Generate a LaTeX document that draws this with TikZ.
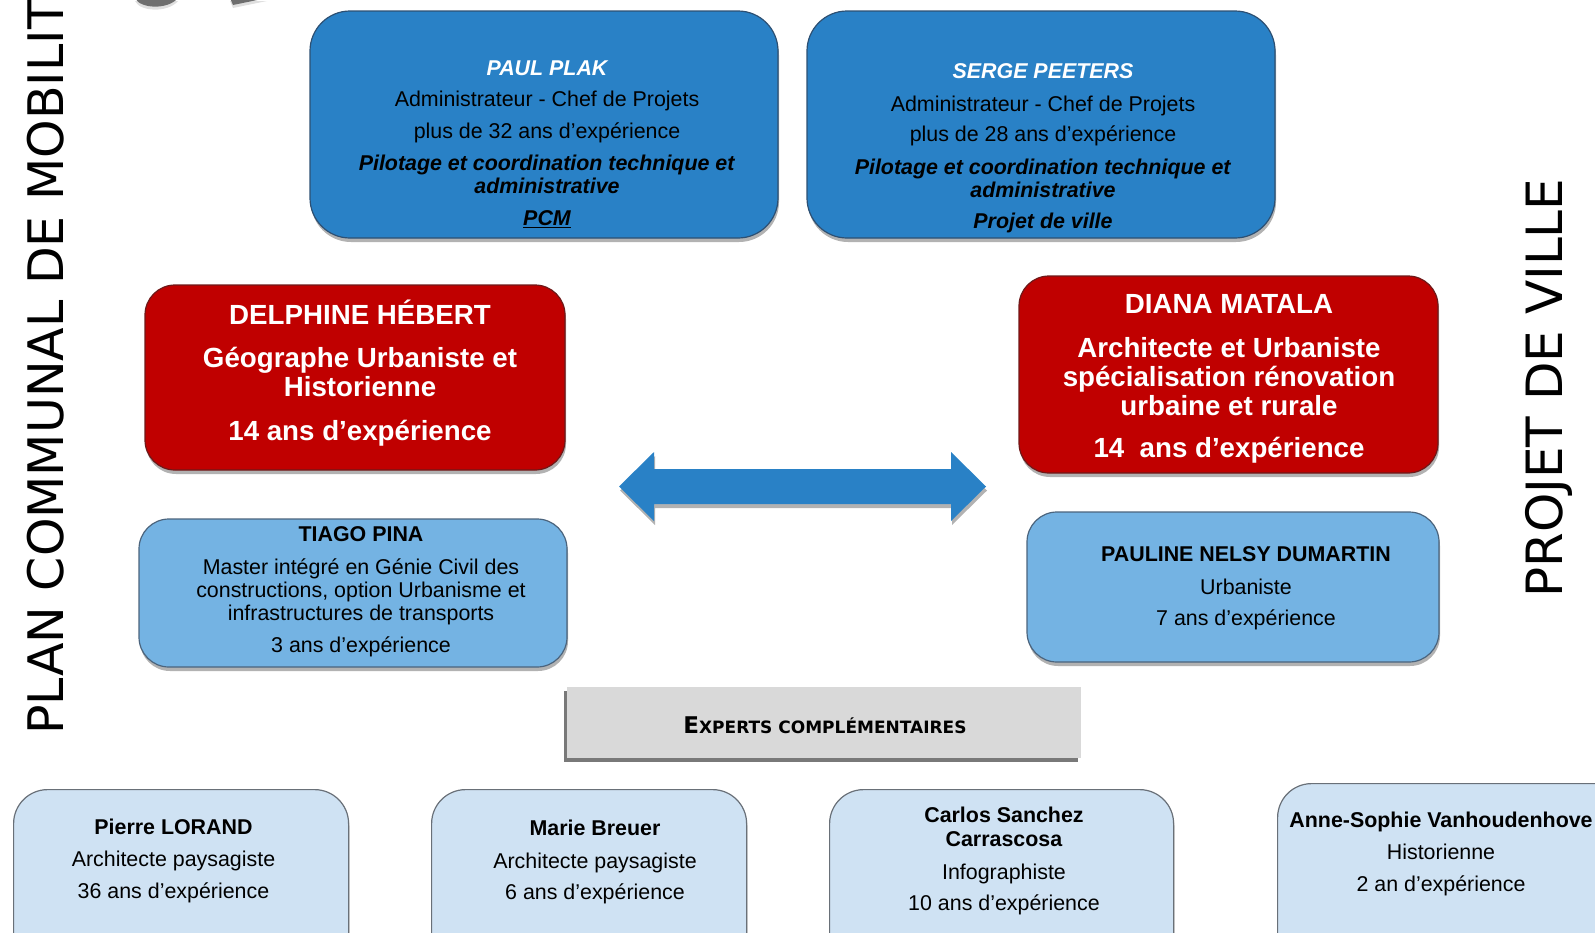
\documentclass[tikz,border=0pt]{standalone}
\usepackage{fontspec}
\setmainfont{Liberation Sans}
\newfontfamily\dvs{DejaVu Sans}
\usetikzlibrary{shadows}
\definecolor{topblue}{RGB}{41,129,198}
\definecolor{topborder}{RGB}{45,80,115}
\definecolor{redfill}{RGB}{192,0,0}
\definecolor{redborder}{RGB}{110,25,25}
\definecolor{midblue}{RGB}{116,179,227}
\definecolor{midborder}{RGB}{75,100,125}
\definecolor{paleblue}{RGB}{207,226,243}
\definecolor{paleborder}{RGB}{105,112,120}
\definecolor{expgrey}{RGB}{217,217,217}
\definecolor{blobgrey}{RGB}{110,110,110}
\begin{document}
\begin{tikzpicture}[x=1pt,y=-1pt,
  softshadow/.style={drop shadow={shadow xshift=1pt,shadow yshift=-4pt,opacity=0.3,fill=black}},
  card/.style={draw, line width=1.2pt, inner sep=0pt, softshadow},
  topbox/.style={card, fill=topblue, draw=topborder, rounded corners=40pt, minimum width=468pt, minimum height=227pt},
  redbox/.style={card, fill=redfill, draw=redborder, rounded corners=30pt},
  midbox/.style={card, fill=midblue, draw=midborder, rounded corners=30pt},
  palebox/.style={card, fill=paleblue, draw=paleborder, rounded corners=34pt, anchor=north west, minimum height=190pt},
  body/.style={align=center, inner sep=0pt, anchor=base, font=\fontsize{21.4}{23}\selectfont},
  bigbody/.style={align=center, inner sep=0pt, anchor=base, text=white, font=\fontsize{27.7}{29}\selectfont\bfseries},
  sidetext/.style={inner sep=0pt, anchor=base west, rotate=90, font=\dvs\fontsize{49}{49}\selectfont}
]
\clip (0,0) rectangle (1595,932);
\useasboundingbox (0,0) rectangle (1595,932);

% partial grey shapes at the top edge
\path[fill=blobgrey, drop shadow={shadow xshift=0pt,shadow yshift=-3pt,opacity=0.25}]
  (135,-2) .. controls (140,9) and (168,10) .. (178,-2) -- cycle;
\path[fill=blobgrey, drop shadow={shadow xshift=0pt,shadow yshift=-3pt,opacity=0.25}]
  (230,-2) -- (233,5) -- (267,-2) -- cycle;

% side titles
\node[sidetext] (pcm) at (63,735) {PLAN COMMUNAL DE MOBILITÉ};
\node[sidetext, font=\dvs\fontsize{50}{50}\selectfont] (pdv) at (1562,598) {PROJET DE VILLE};

% top boxes
\node[topbox] (paul) at (544,124.5) {};
\node[body] (paultxt) at (547,225.5) {{\color{white}\bfseries\itshape PAUL PLAK}\\[8pt]
  Administrateur - Chef de Projets\\[9pt]
  plus de 32 ans d’expérience\\[9pt]
  \textbf{\textit{Pilotage et coordination technique et}}\\
  \textbf{\textit{administrative}}\\[9pt]
  \textbf{\textit{\underline{PCM}}}};

\node[topbox] (serge) at (1041,124.5) {};
\node[body] (sergetxt) at (1043,228.5) {{\color{white}\bfseries\itshape SERGE PEETERS}\\[10pt]
  Administrateur - Chef de Projets\\[7pt]
  plus de 28 ans d’expérience\\[10pt]
  \textbf{\textit{Pilotage et coordination technique et}}\\
  \textbf{\textit{administrative}}\\[8pt]
  \textbf{\textit{Projet de ville}}};

% red boxes
\node[redbox, minimum width=420pt, minimum height=185pt] (delphine) at (355,377.5) {};
\node[bigbody] (delphinetxt) at (360,440) {DELPHINE HÉBERT\\[14pt]
  Géographe Urbaniste et\\
  Historienne\\[15pt]
  14 ans d’expérience};

\node[redbox, minimum width=419pt, minimum height=197pt] (diana) at (1228.5,374.5) {};
\node[bigbody] (dianatxt) at (1229,457) {DIANA MATALA\\[15pt]
  Architecte et Urbaniste\\
  spécialisation rénovation\\
  urbaine et rurale\\[13pt]
  14~ ans d’expérience};

% double arrow
\path[fill=topblue, softshadow] (619,486.5) -- (654,452) -- (654,469) -- (951,469) -- (951,452)
  -- (986,486.5) -- (951,521) -- (951,504) -- (654,504) -- (654,521) -- cycle;

% mid boxes
\node[midbox, minimum width=428pt, minimum height=148pt] (tiago) at (353,593) {};
\node[body] (tiagotxt) at (361,652.5) {\textbf{TIAGO PINA}\\[10pt]
  Master intégré en Génie Civil des\\
  constructions, option Urbanisme et\\
  infrastructures de transports\\[9pt]
  3 ans d’expérience};

\node[midbox, minimum width=412pt, minimum height=150pt] (pauline) at (1233,587) {};
\node[body] (paulinetxt) at (1246,625.5) {\textbf{PAULINE NELSY DUMARTIN}\\[10pt]
  Urbaniste\\[8pt]
  7 ans d’expérience};

% experts header
\node[fill=expgrey, inner sep=0pt, minimum width=514pt, minimum height=71pt,
  drop shadow={shadow xshift=-3pt,shadow yshift=-4pt,opacity=0.75,fill=black!70}] (experts) at (824,722.5) {};
\node[inner sep=0pt, anchor=base, font=\dvs\bfseries] (expertstxt) at (825,733)
  {{\fontsize{23}{23}\selectfont E}{\fontsize{17}{17}\selectfont XPERTS COMPLÉMENTAIRES}};

% bottom boxes
\node[palebox, minimum width=335pt] (pierre) at (13,789) {};
\node[body] (pierretxt) at (173.5,898.5) {\textbf{Pierre LORAND}\\[9pt]
  Architecte paysagiste\\[9pt]
  36 ans d’expérience};

\node[palebox, minimum width=315pt] (marie) at (431,789) {};
\node[body] (marietxt) at (595,899.5) {\textbf{Marie Breuer}\\[10pt]
  Architecte paysagiste\\[8pt]
  6 ans d’expérience};

\node[palebox, minimum width=344pt] (carlos) at (829,789) {};
\node[body] (carlostxt) at (1004,910.5) {\textbf{Carlos Sanchez}\\[1pt]
  \textbf{Carrascosa}\\[10pt]
  Infographiste\\[8pt]
  10 ans d’expérience};

\node[palebox, minimum width=380pt] (anne) at (1277,783) {};
\node[body] (annetxt) at (1441,891.5) {\textbf{Anne-Sophie Vanhoudenhove}\\[9pt]
  Historienne\\[9pt]
  2 an d’expérience};
\end{tikzpicture}
\end{document}
